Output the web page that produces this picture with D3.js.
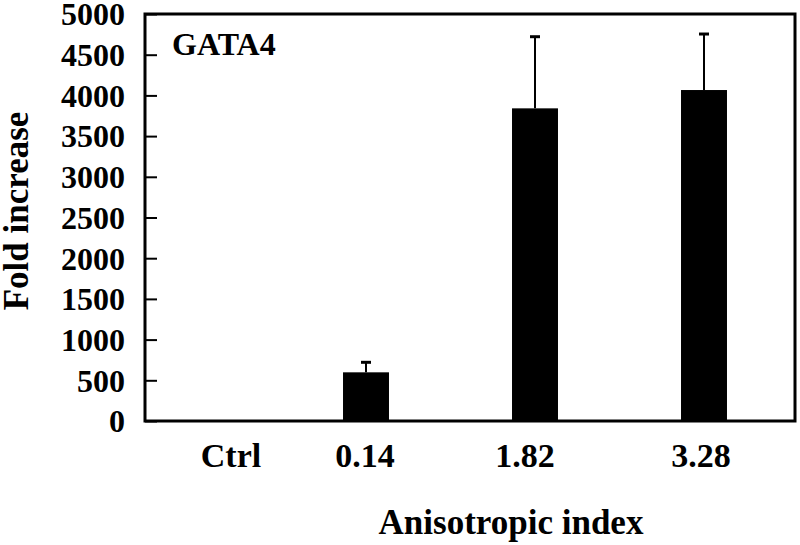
<!DOCTYPE html>
<html lang="en">
<head>
    <meta charset="UTF-8" />
    <title>GATA4 fold increase</title>
    <script src="https://d3js.org/d3.v7.min.js"></script>
    <style>
        body {
            margin: 0;
            background: #fff;
        }
        svg text {
            font-family: "Liberation Serif", "Times New Roman", serif;
            font-weight: bold;
            fill: #000;
        }
    </style>
</head>
<body>
    <svg id="chart" width="800" height="545"></svg>

    <script>
        // data
        const categories = ["Ctrl", "0.14", "1.82", "3.28"];
        const foldIncrease = [1, 598, 3841, 4066];
        const errorUp = [0, 123, 880, 688];
        const yTicks = [0, 500, 1000, 1500, 2000, 2500, 3000, 3500, 4000, 4500, 5000];

        const svg = d3.select("#chart");

        const plot = { left: 145, right: 795, top: 14, bottom: 421 };

        const x = d3.scaleBand()
            .domain(categories)
            .range([112.5, 788.5])
            .paddingInner(0.728)
            .paddingOuter(0.364);

        const y = d3.scaleLinear()
            .domain([0, 5000])
            .range([plot.bottom, plot.top]);

        // bars
        svg.append("g")
            .selectAll("rect")
            .data(categories)
            .enter()
            .append("rect")
            .attr("x", d => x(d))
            .attr("y", (d, i) => y(foldIncrease[i]))
            .attr("width", x.bandwidth())
            .attr("height", (d, i) => y(0) - y(foldIncrease[i]))
            .attr("fill", "#000");

        // error bars (upper only)
        const err = svg.append("g")
            .selectAll("g")
            .data(categories.filter((d, i) => errorUp[i] > 0))
            .enter()
            .append("g");

        const cx = d => x(d) + x.bandwidth() / 2;
        const errTop = d => {
            const i = categories.indexOf(d);
            return y(foldIncrease[i] + errorUp[i]);
        };

        err.append("line")
            .attr("x1", cx).attr("x2", cx)
            .attr("y1", d => y(foldIncrease[categories.indexOf(d)]))
            .attr("y2", errTop)
            .attr("stroke", "#000")
            .attr("stroke-width", 2);

        err.append("line")
            .attr("x1", d => cx(d) - 5).attr("x2", d => cx(d) + 5)
            .attr("y1", errTop).attr("y2", errTop)
            .attr("stroke", "#000")
            .attr("stroke-width", 3);

        // y axis, ticks pointing inward
        const yAxis = svg.append("g")
            .attr("transform", `translate(${plot.left},0)`)
            .call(d3.axisLeft(y)
                .tickValues(yTicks)
                .tickFormat(d3.format("d"))
                .tickSize(-12)
                .tickPadding(20));
        yAxis.select(".domain").remove();
        yAxis.selectAll(".tick line")
            .attr("stroke", "#000")
            .attr("stroke-width", 2);
        yAxis.selectAll(".tick text")
            .attr("font-size", 32)
            .attr("font-family", null)
            .attr("dy", "0.34em");

        // x labels (no tick marks)
        const labelNudge = [34, -1, -10, -3];
        const xAxis = svg.append("g")
            .attr("transform", `translate(0,${plot.bottom})`)
            .call(d3.axisBottom(x).tickSize(0));
        xAxis.select(".domain").remove();
        xAxis.selectAll(".tick text")
            .attr("font-size", 34)
            .attr("font-family", null)
            .attr("y", 46)
            .attr("dy", 0)
            .attr("dx", (d, i) => labelNudge[i]);

        // frame
        svg.append("rect")
            .attr("x", plot.left)
            .attr("y", plot.top)
            .attr("width", plot.right - plot.left)
            .attr("height", plot.bottom - plot.top)
            .attr("fill", "none")
            .attr("stroke", "#000")
            .attr("stroke-width", 3);

        // titles
        svg.append("text")
            .attr("x", 172)
            .attr("y", 55)
            .attr("font-size", 32)
            .text("GATA4");

        svg.append("text")
            .attr("x", 511)
            .attr("y", 534)
            .attr("text-anchor", "middle")
            .attr("font-size", 35)
            .text("Anisotropic index");

        svg.append("text")
            .attr("transform", "translate(28,211) rotate(-90)")
            .attr("text-anchor", "middle")
            .attr("font-size", 35)
            .text("Fold increase");
    </script>
</body>
</html>
